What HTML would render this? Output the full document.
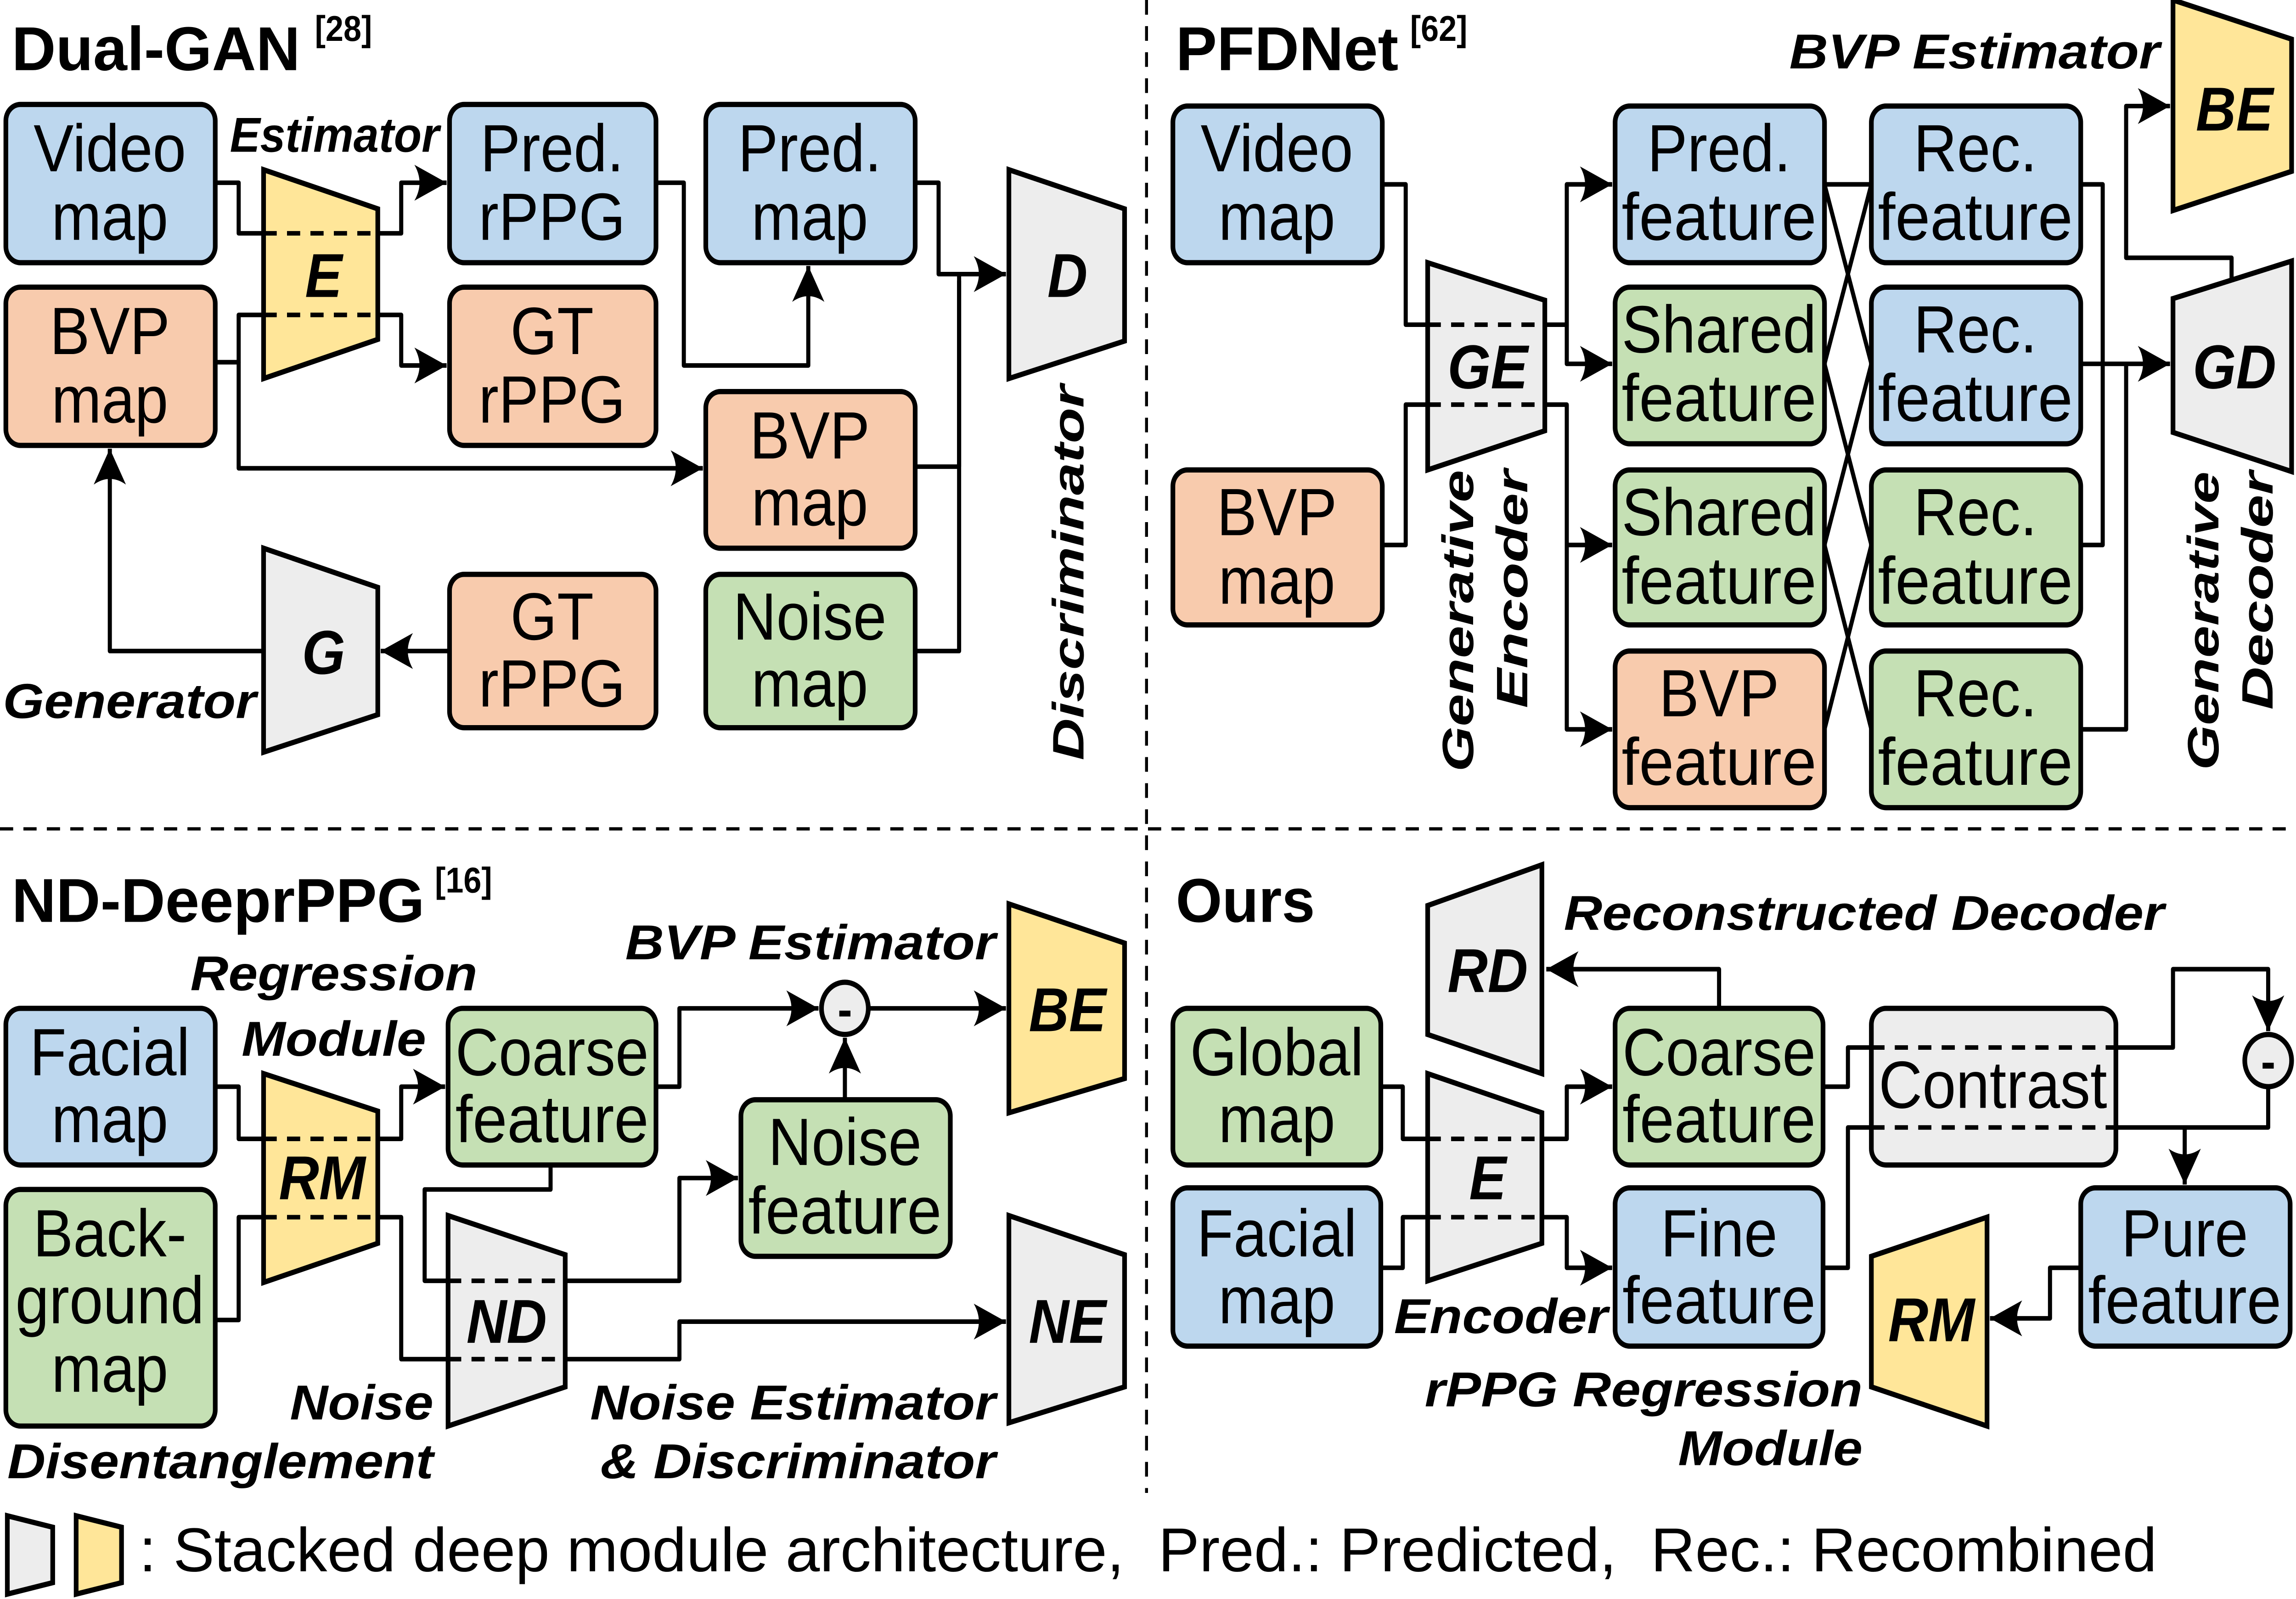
<!DOCTYPE html>
<html><head><meta charset="utf-8"><style>
html,body{margin:0;padding:0;background:#fff;width:100%;height:100%;overflow:hidden;}
svg{display:block;position:fixed;left:0;top:0;width:100vw;height:100vh;}
.b{stroke:#000;stroke-width:3.2;}
.l{fill:none;stroke:#000;stroke-width:2.8;stroke-linejoin:round;}
.d{fill:none;stroke:#000;stroke-width:2.8;stroke-dasharray:9 7;}
.bx{font-family:"Liberation Sans",Arial,sans-serif;font-size:41px;text-anchor:middle;}
.lb{font-family:"Liberation Sans",Arial,sans-serif;font-weight:bold;font-style:italic;font-size:30px;}
.mk{font-family:"Liberation Sans",Arial,sans-serif;font-weight:bold;font-style:italic;font-size:38px;text-anchor:middle;}
.tt{font-family:"Liberation Sans",Arial,sans-serif;font-weight:bold;font-size:38px;}
.sp{font-family:"Liberation Sans",Arial,sans-serif;font-weight:bold;font-size:22px;}
</style></head><body>
<svg viewBox="0 0 1568 980" preserveAspectRatio="none" xmlns="http://www.w3.org/2000/svg">
<defs>
<marker id="a" markerUnits="userSpaceOnUse" markerWidth="24" markerHeight="22" refX="22" refY="11" orient="auto">
<path d="M0,0 L22,11 L0,22 Q7,11 0,0 Z" fill="#000"/>
</marker>
</defs>
<rect width="1568" height="980" fill="#fff"/>

<line x1="783" y1="0" x2="783" y2="915" stroke="#000" stroke-width="2" stroke-dasharray="9 7"/>
<line x1="0" y1="508" x2="1568" y2="508" stroke="#000" stroke-width="2" stroke-dasharray="9 7"/>

<!-- Dual-GAN -->
<text class="tt" x="8" y="43" textLength="197" lengthAdjust="spacingAndGlyphs">Dual-GAN</text>
<text class="sp" x="215" y="25">[28]</text>

<g class="l">
<polyline points="147,112 163,112 163,143 180,143"/>
<polyline points="258,143 274,143 274,112 305,112" marker-end="url(#a)"/>
<polyline points="147,222 163,222 163,193 180,193"/>
<polyline points="258,193 274,193 274,224 305,224" marker-end="url(#a)"/>
<polyline points="163,222 163,287 480,287" marker-end="url(#a)"/>
<polyline points="448,112 467,112 467,224 552,224 552,163" marker-end="url(#a)"/>
<polyline points="625,112 641,112 641,168 687,168" marker-end="url(#a)"/>
<polyline points="625,286 655,286 655,168"/>
<polyline points="625,399 655,399 655,172"/>
<polyline points="307,399 260,399" marker-end="url(#a)"/>
<polyline points="180,399 75,399 75,275" marker-end="url(#a)"/>
</g>

<rect class="b" x="4" y="64" width="143" height="97" rx="10" fill="#bdd7ee"/>
<rect class="b" x="4" y="176" width="143" height="97" rx="10" fill="#f8cbad"/>
<rect class="b" x="307" y="64" width="141" height="97" rx="10" fill="#bdd7ee"/>
<rect class="b" x="307" y="176" width="141" height="97" rx="10" fill="#f8cbad"/>
<rect class="b" x="482" y="64" width="143" height="97" rx="10" fill="#bdd7ee"/>
<rect class="b" x="482" y="240" width="143" height="96" rx="10" fill="#f8cbad"/>
<rect class="b" x="307" y="352" width="141" height="94" rx="10" fill="#f8cbad"/>
<rect class="b" x="482" y="352" width="143" height="94" rx="10" fill="#c5e0b4"/>

<polygon class="b" points="180,104 258,128 258,208 180,232" fill="#ffe699"/>
<line class="d" x1="180" y1="143" x2="258" y2="143"/>
<line class="d" x1="180" y1="193" x2="258" y2="193"/>
<polygon class="b" points="180,336 258,360 258,438 180,461" fill="#ededed"/>
<polygon class="b" points="689,104 768,128 768,209 689,232" fill="#ededed"/>

<text class="bx" x="75" y="105">Video</text><text class="bx" x="75" y="147">map</text>
<text class="bx" x="75" y="217">BVP</text><text class="bx" x="75" y="259">map</text>
<text class="bx" x="377" y="105">Pred.</text><text class="bx" x="377" y="147">rPPG</text>
<text class="bx" x="377" y="217">GT</text><text class="bx" x="377" y="259">rPPG</text>
<text class="bx" x="553" y="105">Pred.</text><text class="bx" x="553" y="147">map</text>
<text class="bx" x="553" y="281">BVP</text><text class="bx" x="553" y="322">map</text>
<text class="bx" x="377" y="392">GT</text><text class="bx" x="377" y="433">rPPG</text>
<text class="bx" x="553" y="392">Noise</text><text class="bx" x="553" y="433">map</text>

<text class="mk" x="221" y="182">E</text>
<text class="mk" x="221" y="413">G</text>
<text class="mk" x="729" y="182">D</text>
<text class="lb" x="157" y="93" textLength="143" lengthAdjust="spacingAndGlyphs">Estimator</text>
<text class="lb" x="2" y="440" textLength="173" lengthAdjust="spacingAndGlyphs">Generator</text>
<text class="lb" transform="translate(740,466) rotate(-90)" textLength="230" lengthAdjust="spacingAndGlyphs">Discriminator</text>

<!-- PFDNet -->
<text class="tt" x="803" y="43" textLength="152" lengthAdjust="spacingAndGlyphs">PFDNet</text>
<text class="sp" x="963" y="25">[62]</text>
<text class="lb" x="1222" y="42" textLength="253" lengthAdjust="spacingAndGlyphs">BVP Estimator</text>

<g class="l">
<polyline points="944,113 960,113 960,199 975,199"/>
<polyline points="944,334 960,334 960,248 975,248"/>
<polyline points="1055,199 1070,199 1070,113 1101,113" marker-end="url(#a)"/>
<polyline points="1070,199 1070,223 1101,223" marker-end="url(#a)"/>
<polyline points="1055,248 1070,248 1070,447 1101,447" marker-end="url(#a)"/>
<polyline points="1070,334 1101,334" marker-end="url(#a)"/>
<line x1="1246" y1="113" x2="1278" y2="113"/>
<line x1="1246" y1="113" x2="1278" y2="223"/>
<line x1="1246" y1="223" x2="1278" y2="113"/>
<line x1="1246" y1="223" x2="1278" y2="334"/>
<line x1="1246" y1="334" x2="1278" y2="223"/>
<line x1="1246" y1="334" x2="1278" y2="447"/>
<line x1="1246" y1="447" x2="1278" y2="334"/>
<polyline points="1421,113 1436,113 1436,223"/>
<polyline points="1421,223 1482,223" marker-end="url(#a)"/>
<polyline points="1421,334 1436,334 1436,223"/>
<polyline points="1421,447 1452,447 1452,223"/>
<polyline points="1524,171 1524,158 1452,158 1452,65 1482,65" marker-end="url(#a)"/>
</g>

<rect class="b" x="801" y="65" width="143" height="96" rx="10" fill="#bdd7ee"/>
<rect class="b" x="801" y="288" width="143" height="95" rx="10" fill="#f8cbad"/>
<polygon class="b" points="975,161 1055,184 1055,264 975,288" fill="#ededed"/>
<line class="d" x1="975" y1="199" x2="1055" y2="199"/>
<line class="d" x1="975" y1="248" x2="1055" y2="248"/>

<rect class="b" x="1103" y="65" width="143" height="96" rx="10" fill="#bdd7ee"/>
<rect class="b" x="1103" y="176" width="143" height="96" rx="10" fill="#c5e0b4"/>
<rect class="b" x="1103" y="288" width="143" height="95" rx="10" fill="#c5e0b4"/>
<rect class="b" x="1103" y="399" width="143" height="96" rx="10" fill="#f8cbad"/>
<rect class="b" x="1278" y="65" width="143" height="96" rx="10" fill="#bdd7ee"/>
<rect class="b" x="1278" y="176" width="143" height="96" rx="10" fill="#bdd7ee"/>
<rect class="b" x="1278" y="288" width="143" height="95" rx="10" fill="#c5e0b4"/>
<rect class="b" x="1278" y="399" width="143" height="96" rx="10" fill="#c5e0b4"/>

<polygon class="b" points="1484,0 1565,24 1565,105 1484,129" fill="#ffe699"/>
<polygon class="b" points="1484,183 1565,160 1565,289 1484,265" fill="#ededed"/>

<text class="bx" x="872" y="105">Video</text><text class="bx" x="872" y="147">map</text>
<text class="bx" x="872" y="328">BVP</text><text class="bx" x="872" y="370">map</text>
<text class="bx" x="1174" y="105">Pred.</text><text class="bx" x="1174" y="147" textLength="133" lengthAdjust="spacingAndGlyphs">feature</text>
<text class="bx" x="1174" y="216" textLength="133" lengthAdjust="spacingAndGlyphs">Shared</text><text class="bx" x="1174" y="258" textLength="133" lengthAdjust="spacingAndGlyphs">feature</text>
<text class="bx" x="1174" y="328" textLength="133" lengthAdjust="spacingAndGlyphs">Shared</text><text class="bx" x="1174" y="370" textLength="133" lengthAdjust="spacingAndGlyphs">feature</text>
<text class="bx" x="1174" y="439">BVP</text><text class="bx" x="1174" y="481" textLength="133" lengthAdjust="spacingAndGlyphs">feature</text>
<text class="bx" x="1349" y="105">Rec.</text><text class="bx" x="1349" y="147" textLength="133" lengthAdjust="spacingAndGlyphs">feature</text>
<text class="bx" x="1349" y="216">Rec.</text><text class="bx" x="1349" y="258" textLength="133" lengthAdjust="spacingAndGlyphs">feature</text>
<text class="bx" x="1349" y="328">Rec.</text><text class="bx" x="1349" y="370" textLength="133" lengthAdjust="spacingAndGlyphs">feature</text>
<text class="bx" x="1349" y="439">Rec.</text><text class="bx" x="1349" y="481" textLength="133" lengthAdjust="spacingAndGlyphs">feature</text>

<text class="mk" x="1016" y="238">GE</text>
<text class="mk" x="1526" y="80">BE</text>
<text class="mk" x="1526" y="238">GD</text>
<text class="lb" transform="translate(1006,473) rotate(-90)" textLength="185" lengthAdjust="spacingAndGlyphs">Generative</text>
<text class="lb" transform="translate(1043,434) rotate(-90)" textLength="146" lengthAdjust="spacingAndGlyphs">Encoder</text>
<text class="lb" transform="translate(1515,472) rotate(-90)" textLength="183" lengthAdjust="spacingAndGlyphs">Generative</text>
<text class="lb" transform="translate(1552,435) rotate(-90)" textLength="146" lengthAdjust="spacingAndGlyphs">Decoder</text>

<!-- ND-DeeprPPG -->
<text class="tt" x="8" y="565" textLength="282" lengthAdjust="spacingAndGlyphs">ND-DeeprPPG</text>
<text class="sp" x="297" y="547">[16]</text>

<g class="l">
<polyline points="147,666 163,666 163,698 180,698"/>
<polyline points="147,809 163,809 163,746 180,746"/>
<polyline points="258,698 274,698 274,666 304,666" marker-end="url(#a)"/>
<polyline points="258,746 274,746 274,833 306,833"/>
<polyline points="386,833 464,833 464,810 687,810" marker-end="url(#a)"/>
<polyline points="448,666 464,666 464,618 559,618" marker-end="url(#a)"/>
<polyline points="593,618 687,618" marker-end="url(#a)"/>
<polyline points="577,674 577,636" marker-end="url(#a)"/>
<polyline points="376,714 376,729 290,729 290,785 306,785"/>
<polyline points="386,785 464,785 464,722 504,722" marker-end="url(#a)"/>
</g>

<rect class="b" x="4" y="618" width="143" height="96" rx="10" fill="#bdd7ee"/>
<rect class="b" x="4" y="729" width="143" height="145" rx="10" fill="#c5e0b4"/>
<rect class="b" x="306" y="618" width="142" height="96" rx="10" fill="#c5e0b4"/>
<rect class="b" x="506" y="674" width="143" height="96" rx="10" fill="#c5e0b4"/>
<polygon class="b" points="180,658 258,681 258,762 180,786" fill="#ffe699"/>
<line class="d" x1="180" y1="698" x2="258" y2="698"/>
<line class="d" x1="180" y1="746" x2="258" y2="746"/>
<polygon class="b" points="306,745 386,769 386,850 306,874" fill="#ededed"/>
<line class="d" x1="306" y1="785" x2="386" y2="785"/>
<line class="d" x1="306" y1="833" x2="386" y2="833"/>
<polygon class="b" points="689,554 768,578 768,661 689,682" fill="#ffe699"/>
<polygon class="b" points="689,745 768,769 768,850 689,872" fill="#ededed"/>
<circle class="b" cx="577" cy="618" r="16" fill="#ededed"/>
<text x="577" y="629" font-family="Liberation Sans, sans-serif" font-weight="bold" font-size="30" text-anchor="middle">-</text>

<text class="bx" x="75" y="659">Facial</text><text class="bx" x="75" y="700">map</text>
<text class="bx" x="75" y="770">Back-</text><text class="bx" x="75" y="811" textLength="129" lengthAdjust="spacingAndGlyphs">ground</text><text class="bx" x="75" y="853">map</text>
<text class="bx" x="377" y="659" textLength="132" lengthAdjust="spacingAndGlyphs">Coarse</text><text class="bx" x="377" y="700" textLength="132" lengthAdjust="spacingAndGlyphs">feature</text>
<text class="bx" x="577" y="714">Noise</text><text class="bx" x="577" y="756" textLength="132" lengthAdjust="spacingAndGlyphs">feature</text>

<text class="mk" x="220" y="735">RM</text>
<text class="mk" x="346" y="823">ND</text>
<text class="mk" x="729" y="632">BE</text>
<text class="mk" x="729" y="823">NE</text>
<text class="lb" x="130" y="607" textLength="196" lengthAdjust="spacingAndGlyphs">Regression</text>
<text class="lb" x="165" y="647" textLength="126" lengthAdjust="spacingAndGlyphs">Module</text>
<text class="lb" x="427" y="588" textLength="253" lengthAdjust="spacingAndGlyphs">BVP Estimator</text>
<text class="lb" x="198" y="870" textLength="98" lengthAdjust="spacingAndGlyphs">Noise</text>
<text class="lb" x="5" y="906" textLength="291" lengthAdjust="spacingAndGlyphs">Disentanglement</text>
<text class="lb" x="403" y="870" textLength="277" lengthAdjust="spacingAndGlyphs">Noise Estimator</text>
<text class="lb" x="410" y="906" textLength="270" lengthAdjust="spacingAndGlyphs">&amp; Discriminator</text>

<!-- Ours -->
<text class="tt" x="803" y="565" textLength="95" lengthAdjust="spacingAndGlyphs">Ours</text>

<g class="l">
<polyline points="943,666 958,666 958,698 975,698"/>
<polyline points="943,777 958,777 958,746 975,746"/>
<polyline points="1053,698 1070,698 1070,666 1101,666" marker-end="url(#a)"/>
<polyline points="1053,746 1070,746 1070,777 1101,777" marker-end="url(#a)"/>
<polyline points="1174,618 1174,594 1056,594" marker-end="url(#a)"/>
<polyline points="1245,666 1262,666 1262,642 1278,642"/>
<polyline points="1245,777 1262,777 1262,691 1278,691"/>
<polyline points="1445,642 1484,642 1484,594 1549,594 1549,632" marker-end="url(#a)"/>
<polyline points="1445,691 1549,691 1549,666"/>
<polyline points="1492,691 1492,726" marker-end="url(#a)"/>
<polyline points="1421,777 1400,777 1400,808 1359,808" marker-end="url(#a)"/>
</g>

<rect class="b" x="801" y="618" width="142" height="96" rx="10" fill="#c5e0b4"/>
<rect class="b" x="801" y="728" width="142" height="97" rx="10" fill="#bdd7ee"/>
<polygon class="b" points="975,658 1053,682 1053,762 975,785" fill="#ededed"/>
<line class="d" x1="975" y1="698" x2="1053" y2="698"/>
<line class="d" x1="975" y1="746" x2="1053" y2="746"/>
<polygon class="b" points="975,555 1053,530 1053,658 975,634" fill="#ededed"/>
<rect class="b" x="1103" y="618" width="142" height="96" rx="10" fill="#c5e0b4"/>
<rect class="b" x="1103" y="728" width="142" height="97" rx="10" fill="#bdd7ee"/>
<rect class="b" x="1278" y="618" width="167" height="96" rx="10" fill="#ededed"/>
<line class="d" x1="1278" y1="642" x2="1445" y2="642"/>
<line class="d" x1="1278" y1="691" x2="1445" y2="691"/>
<rect class="b" x="1421" y="728" width="143" height="97" rx="10" fill="#bdd7ee"/>
<polygon class="b" points="1278,770 1357,746 1357,874 1278,850" fill="#ffe699"/>
<circle class="b" cx="1549" cy="650" r="16" fill="#ededed"/>
<text x="1549" y="661" font-family="Liberation Sans, sans-serif" font-weight="bold" font-size="30" text-anchor="middle">-</text>

<text class="bx" x="872" y="659">Global</text><text class="bx" x="872" y="700">map</text>
<text class="bx" x="872" y="770">Facial</text><text class="bx" x="872" y="811">map</text>
<text class="bx" x="1174" y="659" textLength="132" lengthAdjust="spacingAndGlyphs">Coarse</text><text class="bx" x="1174" y="700" textLength="132" lengthAdjust="spacingAndGlyphs">feature</text>
<text class="bx" x="1174" y="770">Fine</text><text class="bx" x="1174" y="811" textLength="132" lengthAdjust="spacingAndGlyphs">feature</text>
<text class="bx" x="1361" y="679" textLength="156" lengthAdjust="spacingAndGlyphs">Contrast</text>
<text class="bx" x="1492" y="770">Pure</text><text class="bx" x="1492" y="811" textLength="132" lengthAdjust="spacingAndGlyphs">feature</text>

<text class="mk" x="1016" y="608">RD</text>
<text class="mk" x="1016" y="735">E</text>
<text class="mk" x="1319" y="822">RM</text>
<text class="lb" x="1068" y="570" textLength="410" lengthAdjust="spacingAndGlyphs">Reconstructed Decoder</text>
<text class="lb" x="952" y="817" textLength="146" lengthAdjust="spacingAndGlyphs">Encoder</text>
<text class="lb" x="973" y="862" textLength="299" lengthAdjust="spacingAndGlyphs">rPPG Regression</text>
<text class="lb" x="1146" y="898" textLength="126" lengthAdjust="spacingAndGlyphs">Module</text>

<!-- legend -->
<polygon class="b" points="5,929 36,936 36,970 5,977" fill="#ededed"/>
<polygon class="b" points="52,929 83,936 83,970 52,977" fill="#ffe699"/>
<text x="95" y="963" font-family="Liberation Sans, Arial, sans-serif" font-size="38" textLength="1378" lengthAdjust="spacingAndGlyphs" xml:space="preserve">: Stacked deep module architecture,  Pred.: Predicted,  Rec.: Recombined</text>
</svg>
</body></html>
